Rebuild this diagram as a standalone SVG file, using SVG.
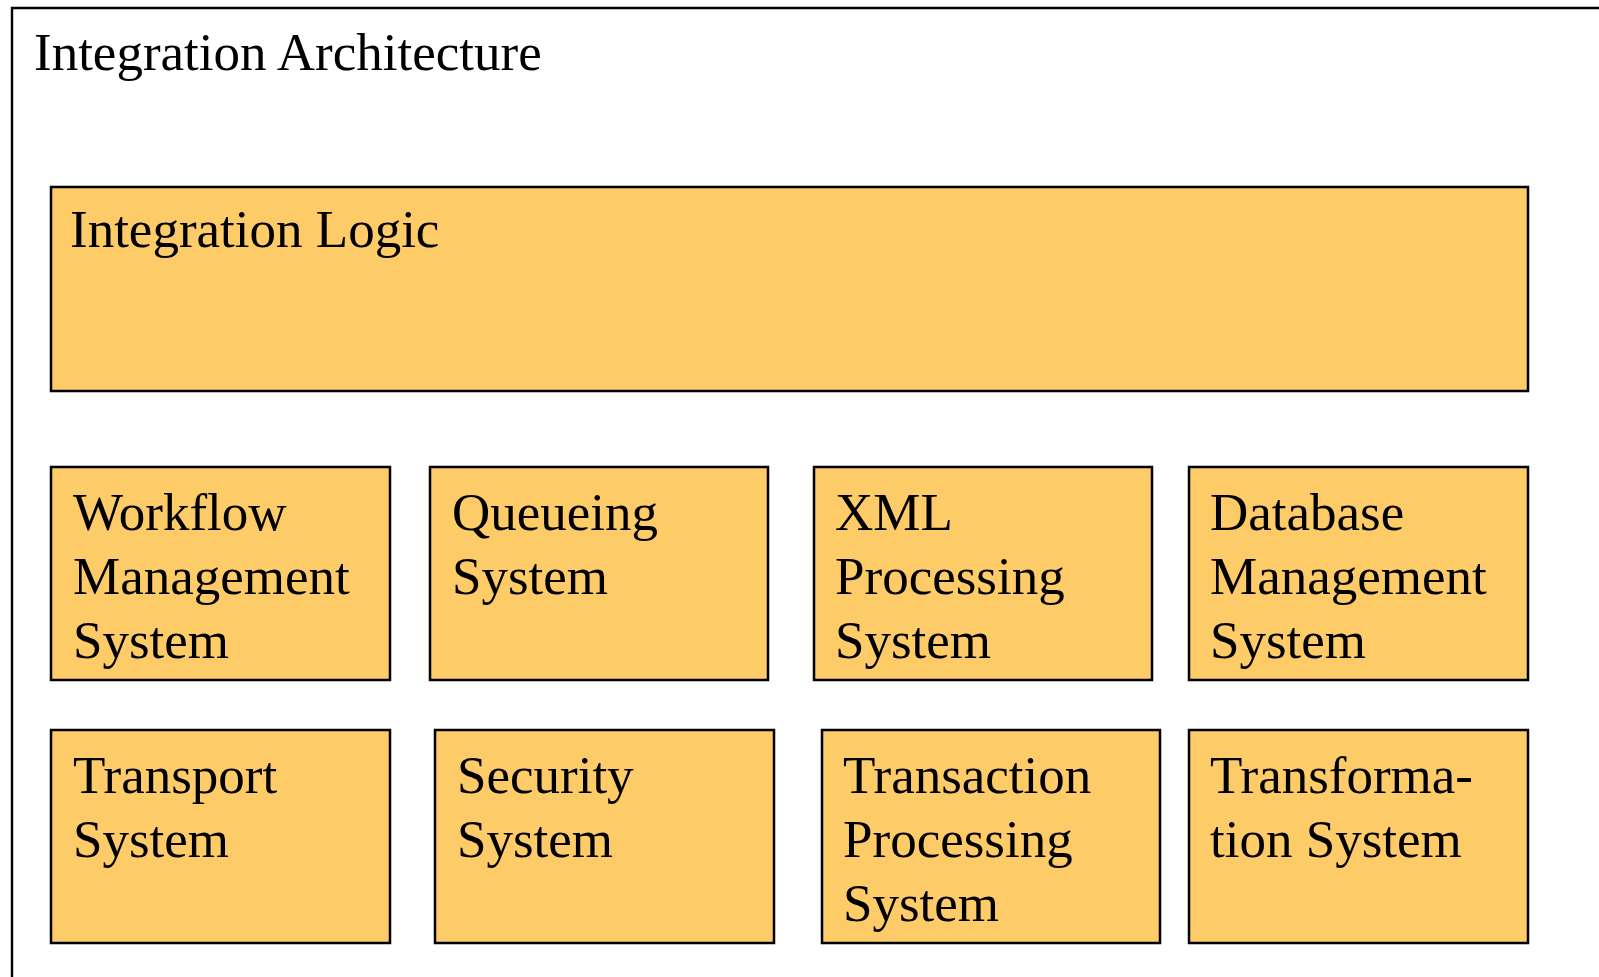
<svg xmlns="http://www.w3.org/2000/svg" width="1599" height="977" viewBox="0 0 1599 977">
<style>
.box{fill:#FECB69;stroke:#000;stroke-width:2.5}
.t{font-family:"Liberation Serif","Times New Roman",serif;font-size:53px;fill:#000}
</style>
<rect width="1599" height="977" fill="#fff"/>
<g id="frame">
<path d="M12,990 V8 H1620" fill="none" stroke="#000" stroke-width="2.4"/>
<text class="t" x="34" y="70">Integration Architecture</text>
</g>
<g id="integration-logic">
<rect class="box" x="51" y="187" width="1477" height="204"/>
<text class="t" x="70" y="247">Integration Logic</text>
</g>
<g id="workflow">
<rect class="box" x="51" y="467" width="339" height="213"/>
<text class="t" x="73" y="530">Workflow<tspan x="73" dy="64">Management</tspan><tspan x="73" dy="64">System</tspan></text>
</g>
<g id="queueing">
<rect class="box" x="430" y="467" width="338" height="213"/>
<text class="t" x="452" y="530">Queueing<tspan x="452" dy="64">System</tspan></text>
</g>
<g id="xml">
<rect class="box" x="814" y="467" width="338" height="213"/>
<text class="t" x="835" y="530">XML<tspan x="835" dy="64">Processing</tspan><tspan x="835" dy="64">System</tspan></text>
</g>
<g id="database">
<rect class="box" x="1189" y="467" width="339" height="213"/>
<text class="t" x="1210" y="530">Database<tspan x="1210" dy="64">Management</tspan><tspan x="1210" dy="64">System</tspan></text>
</g>
<g id="transport">
<rect class="box" x="51" y="730" width="339" height="213"/>
<text class="t" x="73" y="793">Transport<tspan x="73" dy="64">System</tspan></text>
</g>
<g id="security">
<rect class="box" x="435" y="730" width="339" height="213"/>
<text class="t" x="457" y="793">Security<tspan x="457" dy="64">System</tspan></text>
</g>
<g id="transaction">
<rect class="box" x="822" y="730" width="338" height="213"/>
<text class="t" x="843" y="793">Transaction<tspan x="843" dy="64">Processing</tspan><tspan x="843" dy="64">System</tspan></text>
</g>
<g id="transformation">
<rect class="box" x="1189" y="730" width="339" height="213"/>
<text class="t" x="1210" y="793">Transforma-<tspan x="1210" dy="64">tion System</tspan></text>
</g>
<g id="connectors"/>
</svg>
